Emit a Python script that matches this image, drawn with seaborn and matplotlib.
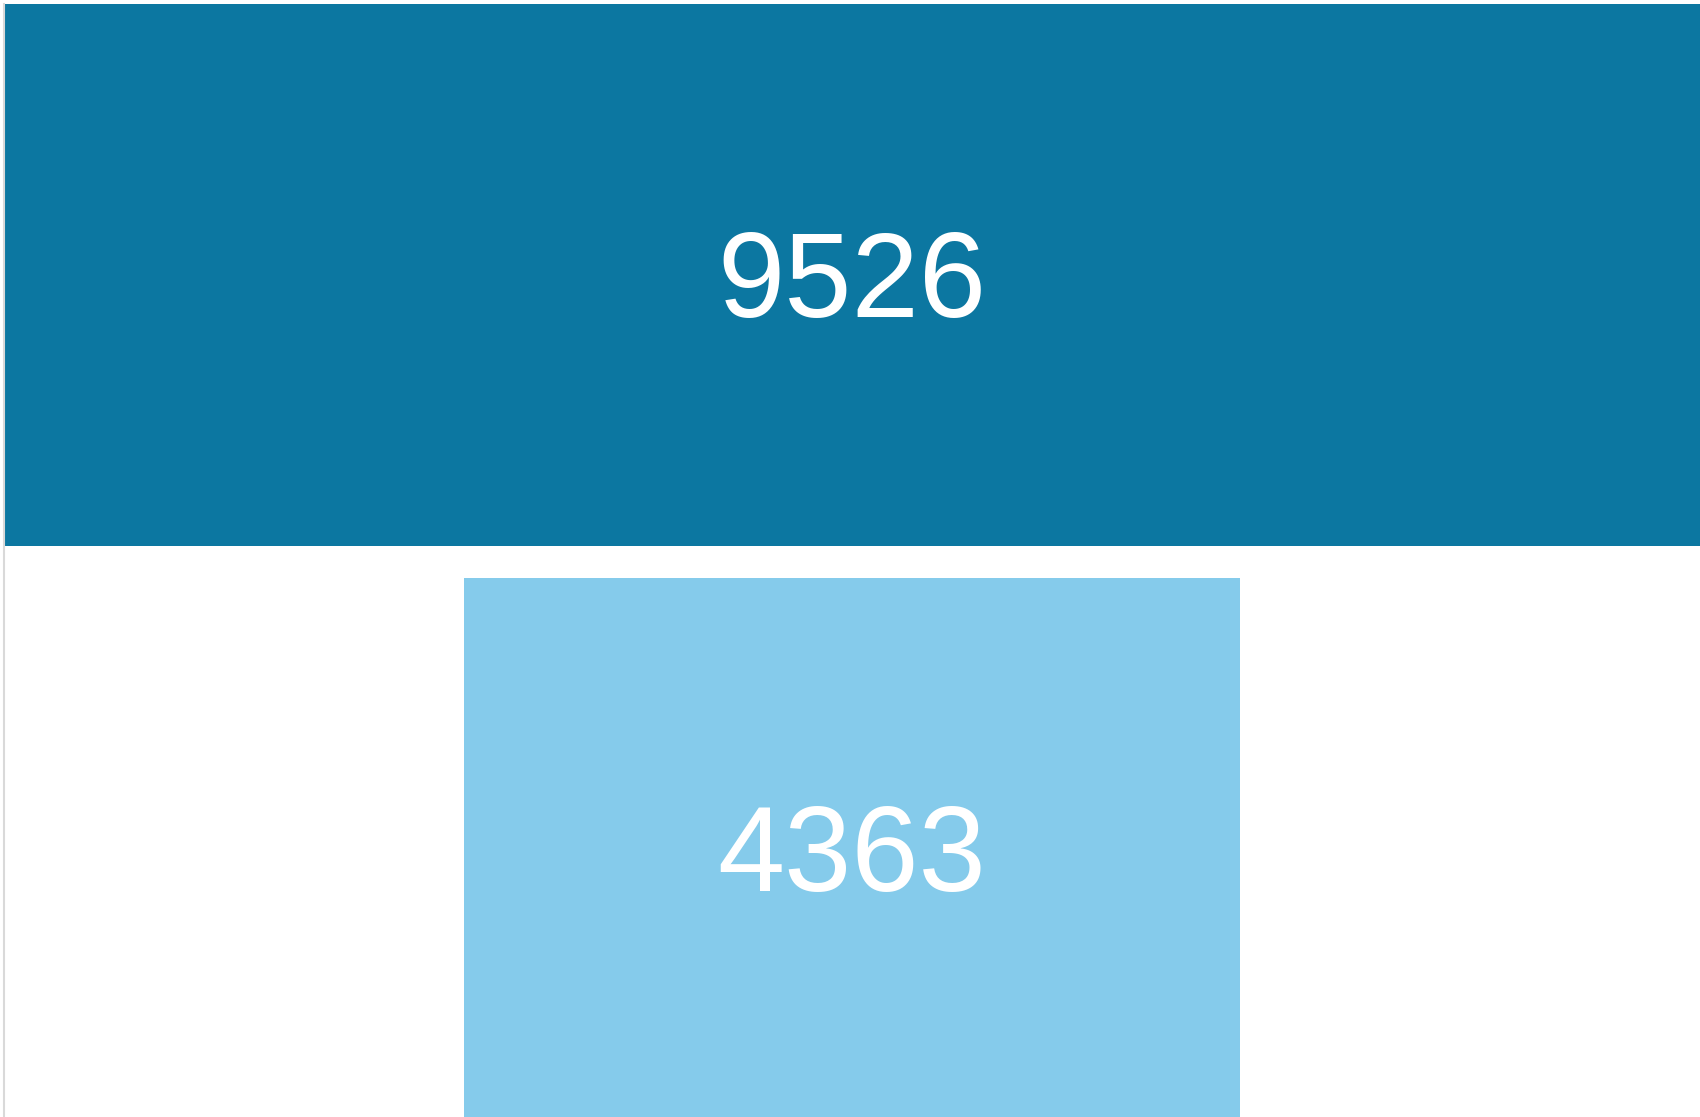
"""
funnel chart: two stages, centred horizontal bars
"""

import numpy as np
import seaborn as sns
import matplotlib.pyplot as plt

# data
stages = ["Stage 1", "Stage 2"]
values = [9526, 4363]
colors = ["#0c77a1", "#85cbeb"]

# configurations
sns.set_theme(style="white")
plt.rcParams["font.family"] = ["Liberation Sans", "DejaVu Sans"]

# instantiate
fig = plt.figure(figsize=(17, 11.17), dpi=100)
ax = fig.add_axes([4 / 1700, -0.002, 1 - 4 / 1700, 1 - 4 / 1117 + 0.002])

vals = np.array(values, dtype=float)
pos = np.arange(len(stages))
bar_h = 0.944

# centred bars (funnel)
ax.barh(pos, vals, left=-vals / 2, height=bar_h, color=colors, linewidth=0)

# labels in the middle of each bar (digits centred, so nudge down past the descender)
for p, v in zip(pos, values):
    ax.annotate(f"{v}", xy=(0, p), xytext=(0, -8), textcoords="offset points",
                ha="center", va="center", color="white", fontsize=87)

# polish
ax.set_xlim(-vals.max() / 2, vals.max() / 2)
ax.set_ylim(len(stages) - 1 + bar_h / 2, -bar_h / 2)
ax.set_xticks([])
ax.set_yticks([])
for side in ["top", "right", "bottom"]:
    ax.spines[side].set_visible(False)
ax.spines["left"].set_color("#d9d9d9")
ax.spines["left"].set_linewidth(1.5)

fig.savefig("out.png", dpi=100)
